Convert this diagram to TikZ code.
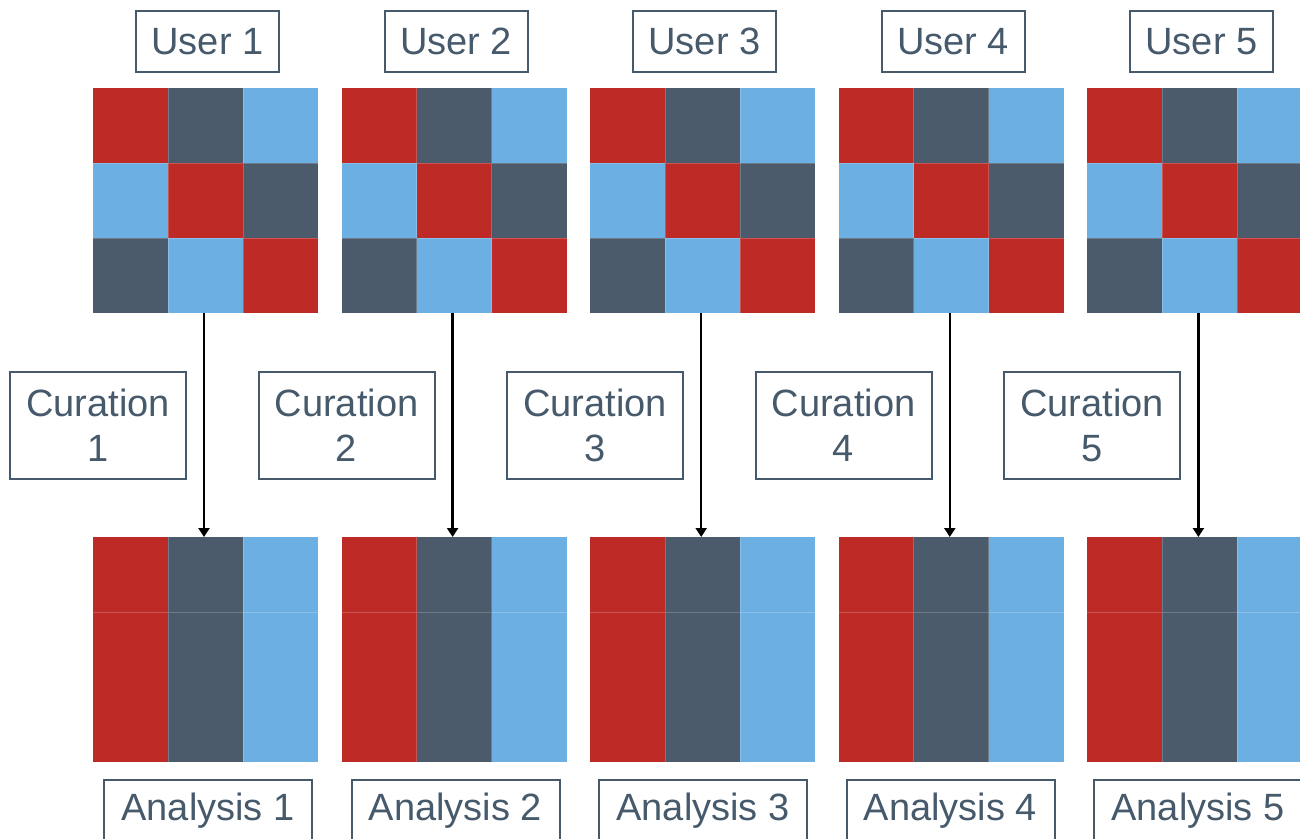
\documentclass[tikz,border=0pt]{standalone}
\usepackage{fontspec}
\setmainfont{Liberation Sans}
\usetikzlibrary{arrows.meta}
\definecolor{cR}{HTML}{BE2B27}
\definecolor{cD}{HTML}{4C5B6C}
\definecolor{cL}{HTML}{6CAFE3}
\definecolor{txt}{HTML}{465A6C}
\tikzset{
  lbl/.style={draw=txt, line width=2pt, text=txt, font=\fontsize{38}{45}\selectfont, inner sep=0pt, align=center, fill=white},
  userbox/.style={lbl, minimum width=143pt, minimum height=61pt},
  curbox/.style={lbl, minimum width=176pt, minimum height=107pt},
  anabox/.style={lbl, minimum width=208pt, minimum height=61pt},
  gridnode/.style={minimum width=225pt, minimum height=225pt, inner sep=0pt, outer sep=0pt},
  seam/.style={white, opacity=0.2, line width=0.7pt},
  flow/.style={-{Triangle[length=9pt,width=11pt]}, line width=2.3pt, black}
}
\begin{document}
\begin{tikzpicture}[x=1pt,y=-1pt]
\useasboundingbox (0,0) rectangle (1300,838);
\clip (0,0) rectangle (1300,838);
\fill[white] (0,0) rectangle (1300,838);
\foreach \i in {0,...,4} {
  \pgfmathsetmacro\ox{93+248.6*\i}
  \pgfmathtruncatemacro\n{\i+1}
  % top grid
  \foreach \r/\c/\col in {0/0/cR,0/1/cD,0/2/cL,1/0/cL,1/1/cR,1/2/cD,2/0/cD,2/1/cL,2/2/cR} {
    \fill[\col] (\ox+75*\c,88+75*\r) rectangle ++(75,75);
  }
  \draw[seam] (\ox+75,88) -- (\ox+75,313) (\ox+150,88) -- (\ox+150,313)
              (\ox,163) -- (\ox+225,163) (\ox,238) -- (\ox+225,238);
  \node[gridnode] (g\i) at (\ox+112.5,200.5) {};
  % bottom grid
  \foreach \c/\col in {0/cR,1/cD,2/cL} {
    \fill[\col] (\ox+75*\c,537) rectangle ++(75,225);
  }
  \draw[seam] (\ox+75,537) -- (\ox+75,762) (\ox+150,537) -- (\ox+150,762)
              (\ox,612) -- (\ox+225,612);
  \node[gridnode] (b\i) at (\ox+112.5,649.5) {};
  % labels
  \node[userbox] (u\i) at (207.5+248.5*\i,41.5) {User \n};
  \node[curbox] (c\i) at (98+248.5*\i,425.5) {Curation\\\n};
  \node[anabox] (a\i) at (208+247.5*\i,810.5) {Analysis \n};
  % arrow
  \draw[flow] ([xshift=-1.5pt]g\i.south) -- ([xshift=-1.5pt]b\i.north);
}
\end{tikzpicture}
\end{document}
